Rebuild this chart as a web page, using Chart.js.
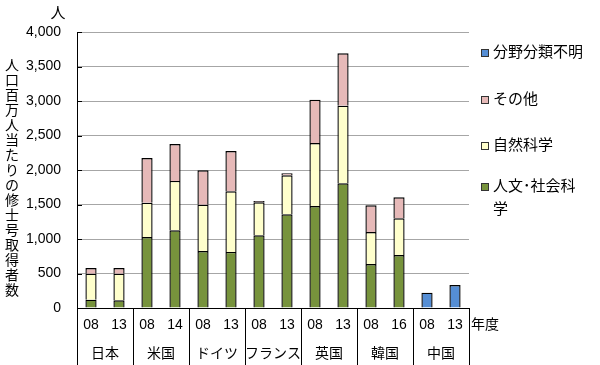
<!DOCTYPE html>
<html lang="ja">
<head>
<meta charset="UTF-8">
<title>人口百万人当たりの修士号取得者数</title>
<script src="https://cdn.jsdelivr.net/npm/chart.js@4.4.0/dist/chart.umd.min.js"></script>
<style>
  body { margin: 0; background: #fff; }
  #wrap { width: 600px; height: 365px; }
</style>
</head>
<body>
<div id="wrap"><canvas id="c" width="600" height="365"></canvas></div>
<script>
// データ（人口百万人当たり、人）
const years = ['08', '13', '08', '14', '08', '13', '08', '13', '08', '13', '08', '16', '08', '13'];
const countries = ['日本', '米国', 'ドイツ', 'フランス', '英国', '韓国', '中国'];
const humSoc  = [121, 111, 1029, 1126, 826, 812, 1053, 1357, 1478, 1807, 638, 768, null, null];
const natSci  = [377, 387, 498, 715, 672, 879, 478, 566, 913, 1125, 463, 532, null, null];
const others  = [82, 82, 647, 536, 497, 584, 20, 29, 628, 759, 387, 304, null, null];
const unknown = [null, null, null, null, null, null, null, null, null, null, null, null, 222, 333];
const yTitle = '人口百万人当たりの修士号取得者数';

const FONT = '"Liberation Sans", "Noto Sans CJK JP", sans-serif';

// 軸下の表・凡例・縦書きタイトル
const extras = {
  id: 'extras',
  afterDraw(chart) {
    const ctx = chart.ctx;
    const area = chart.chartArea;
    const x = chart.scales.x;
    const y = chart.scales.y;
    ctx.save();

    // y軸の内向き目盛
    ctx.strokeStyle = '#000';
    ctx.lineWidth = 1;
    y.ticks.forEach(t => {
      const py = Math.round(y.getPixelForValue(t.value)) + 0.5;
      ctx.beginPath();
      ctx.moveTo(area.left, py);
      ctx.lineTo(area.left + 5, py);
      ctx.stroke();
    });

    // 区切り線
    const bottom = chart.height;
    for (let g = 0; g <= countries.length; g++) {
      let px;
      if (g === 0) px = area.left;
      else if (g === countries.length) px = area.right;
      else px = (x.getPixelForValue(2 * g - 1) + x.getPixelForValue(2 * g)) / 2;
      px = Math.round(px) + 0.5;
      ctx.beginPath();
      ctx.moveTo(px, area.bottom);
      ctx.lineTo(px, bottom);
      ctx.stroke();
    }

    // 年・国ラベル
    ctx.fillStyle = '#000';
    ctx.textAlign = 'center';
    ctx.textBaseline = 'middle';
    ctx.font = '14px ' + FONT;
    years.forEach((yr, i) => {
      ctx.fillText(yr, x.getPixelForValue(i), area.bottom + 17);
    });
    countries.forEach((c, g) => {
      const cx = (x.getPixelForValue(2 * g) + x.getPixelForValue(2 * g + 1)) / 2;
      ctx.fillText(c, cx, area.bottom + 46);
    });
    ctx.textAlign = 'left';
    ctx.fillText('年度', area.right + 2, area.bottom + 17);

    // 単位
    ctx.textAlign = 'center';
    ctx.font = '15px ' + FONT;
    ctx.fillText('人', 58, 14);

    // 縦書きタイトル
    ctx.font = '14px ' + FONT;
    [...yTitle].forEach((ch, i) => {
      ctx.fillText(ch, 12, 66 + i * 15);
    });

    // 凡例（逆順）
    const ds = chart.data.datasets.slice().reverse();
    const rows = [53, 100, 146, 187];
    ctx.font = '15px ' + FONT;
    ctx.textAlign = 'left';
    ds.forEach((d, i) => {
      const ly = rows[i];
      ctx.fillStyle = d.backgroundColor;
      ctx.fillRect(482, ly - 3, 6, 6);
      ctx.strokeStyle = '#333';
      ctx.strokeRect(481.5, ly - 3.5, 7, 7);
      ctx.fillStyle = '#000';
      if (d.label === '人文・社会科学') {
        ctx.fillText('人文･社会科', 493, ly);
        ctx.fillText('学', 493, ly + 23);
      } else {
        ctx.fillText(d.label, 493, ly);
      }
    });
    ctx.restore();
  }
};

const barStyle = { borderColor: '#000', borderWidth: 1.4, barPercentage: 0.4, categoryPercentage: 1 };

new Chart(document.getElementById('c'), {
  type: 'bar',
  data: {
    labels: years,
    datasets: [
      { label: '人文・社会科学', data: humSoc, backgroundColor: '#77933c', ...barStyle },
      { label: '自然科学', data: natSci, backgroundColor: '#ffffcc', ...barStyle },
      { label: 'その他', data: others, backgroundColor: '#e6b9b8', ...barStyle },
      { label: '分野分類不明', data: unknown, backgroundColor: '#558ed5', ...barStyle }
    ]
  },
  options: {
    responsive: false,
    animation: false,
    devicePixelRatio: 1,
    layout: { padding: { left: 0, right: 131, top: 32, bottom: 57 } },
    plugins: { legend: { display: false }, tooltip: { enabled: false } },
    scales: {
      x: {
        stacked: true,
        grid: { display: false, drawTicks: false },
        border: { display: true, color: '#000', width: 1 },
        ticks: { display: false }
      },
      y: {
        stacked: true,
        min: 0,
        max: 4000,
        afterFit(scale) { scale.width = 77; },
        grid: { color: '#a6a6a6', drawTicks: false },
        border: { display: true, color: '#000', width: 1 },
        ticks: {
          stepSize: 500,
          padding: 16,
          color: '#000',
          font: { family: FONT, size: 14 },
          callback: v => v.toLocaleString('en-US')
        }
      }
    }
  },
  plugins: [extras]
});
</script>
</body>
</html>
